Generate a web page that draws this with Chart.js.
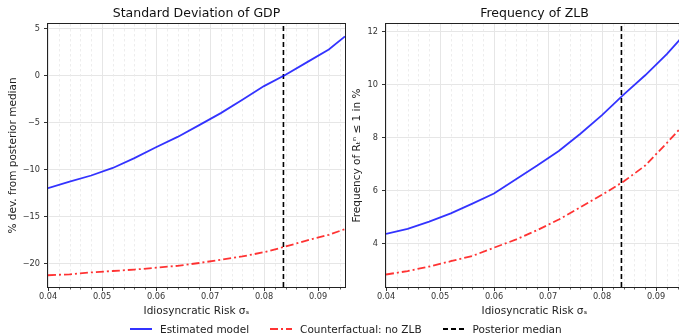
<!DOCTYPE html>
<html><head><meta charset="utf-8">
<script src="https://cdn.jsdelivr.net/npm/chart.js@4.4.0/dist/chart.umd.min.js"></script>
<style>
html,body{margin:0;padding:0;background:#fff;overflow:hidden;width:679px;height:336px;position:relative;}
#c1{position:absolute;left:0;top:0;}
#c2{position:absolute;left:340px;top:0;}
#legend{position:absolute;left:130px;top:321px;height:16px;display:flex;align-items:center;font-family:'DejaVu Sans';font-size:10.5px;color:#222;white-space:nowrap;}
.item{display:flex;align-items:center;margin-right:21px;}
.item svg{margin-right:8px;}
</style></head><body>
<canvas id="c1" width="350" height="336"></canvas>
<canvas id="c2" width="343" height="336"></canvas>
<div id="legend">
  <div class="item"><svg width="22" height="6"><line x1="0" y1="3" x2="22" y2="3" stroke="rgba(0,0,255,0.8)" stroke-width="2"/></svg>Estimated model</div>
  <div class="item"><svg width="22" height="6"><line x1="0" y1="3" x2="22" y2="3" stroke="rgba(255,0,0,0.8)" stroke-width="2" stroke-dasharray="8,3,2,3"/></svg>Counterfactual: no ZLB</div>
  <div class="item"><svg width="22" height="6"><line x1="0" y1="3" x2="22" y2="3" stroke="#000" stroke-width="2" stroke-dasharray="5,3"/></svg>Posterior median</div>
</div>
<script>
// ---- data ----
const sigma        = [0.040, 0.044, 0.048, 0.052, 0.056, 0.060, 0.064, 0.068, 0.072, 0.076, 0.080, 0.084, 0.088, 0.092, 0.095];
const gdpEstimated = [-11.95, -11.25, -10.6, -9.8, -8.75, -7.6, -6.5, -5.25, -3.97, -2.55, -1.1, 0.1, 1.45, 2.8, 4.18];
const gdpNoZLB     = [-21.2, -21.1, -20.9, -20.75, -20.6, -20.4, -20.2, -19.9, -19.55, -19.2, -18.75, -18.15, -17.5, -16.9, -16.3];
const zlbEstimated = [4.38, 4.57, 4.84, 5.15, 5.52, 5.9, 6.43, 6.95, 7.5, 8.15, 8.85, 9.62, 10.35, 11.15, 11.82];
const zlbNoZLB     = [2.85, 2.98, 3.15, 3.35, 3.55, 3.86, 4.16, 4.52, 4.92, 5.38, 5.85, 6.35, 6.95, 7.8, 8.46];
const posteriorMedian = 0.0836;
const xTicks   = [0.040,0.042,0.044,0.046,0.048,0.050,0.052,0.054,0.056,0.058,0.060,0.062,0.064,0.066,0.068,0.070,0.072,0.074,0.076,0.078,0.080,0.082,0.084,0.086,0.088,0.090,0.092,0.094];
const xRange   = [0.04, 0.095];
const gdpYTicks = [-20, -15, -10, -5, 0, 5];
const gdpRange  = [-22.45, 5.5];
const zlbYTicks = [4, 6, 8, 10, 12];
const zlbRange  = [2.38, 12.28];

const FONT = "'DejaVu Sans', sans-serif";
const isMajor = v => Math.abs(v*100 - Math.round(v*100)) < 1e-6;

const panelPlugin = {
  id: 'panel',
  beforeDatasetsDraw(chart) {
    const {ctx, chartArea: a, scales: {x}} = chart;
    ctx.save();
    ctx.strokeStyle = '#e9e9e9'; ctx.lineWidth = 0.8; ctx.setLineDash([2.5, 2.5]);
    xTicks.forEach(v => {
      if (isMajor(v)) return;
      const px = Math.round(x.getPixelForValue(v)) + 0.5;
      ctx.beginPath(); ctx.moveTo(px, a.top); ctx.lineTo(px, a.bottom); ctx.stroke();
    });
    ctx.restore();
  },
  afterDraw(chart, args, opts) {
    const {ctx, chartArea: a, scales: {x}} = chart;
    ctx.save();
    // minor ticks
    ctx.strokeStyle = '#333'; ctx.lineWidth = 0.8; ctx.setLineDash([]);
    xTicks.forEach(v => {
      if (isMajor(v)) return;
      const px = Math.round(x.getPixelForValue(v)) + 0.5;
      ctx.beginPath(); ctx.moveTo(px, a.bottom); ctx.lineTo(px, a.bottom + 2.5); ctx.stroke();
    });
    // frame
    ctx.strokeStyle = '#222'; ctx.lineWidth = 1;
    ctx.strokeRect(Math.round(a.left) - 0.5, Math.round(a.top) - 0.5, Math.round(a.right - a.left) + 1, Math.round(a.bottom - a.top) + 1);
    // title
    ctx.fillStyle = '#111';
    ctx.font = "12.5px " + FONT;
    ctx.textAlign = 'center'; ctx.textBaseline = 'middle';
    ctx.fillText(opts.text, (a.left + a.right) / 2, 14);
    ctx.restore();
  }
};

function makeChart(id, cfg) {
  const tickFont = {family: FONT, size: 8.2};
  return new Chart(document.getElementById(id), {
    type: 'line',
    data: {
      datasets: [
        {data: sigma.map((s, i) => ({x: s, y: cfg.est[i]})), borderColor: 'rgba(0,0,255,0.8)', borderWidth: 1.8},
        {data: sigma.map((s, i) => ({x: s, y: cfg.cf[i]})), borderColor: 'rgba(255,0,0,0.8)', borderWidth: 1.8, borderDash: [8, 3, 2, 3]},
        {data: [{x: posteriorMedian, y: cfg.range[0]}, {x: posteriorMedian, y: cfg.range[1]}], borderColor: '#000', borderWidth: 1.6, borderDash: [5, 3]}
      ]
    },
    options: {
      responsive: false, animation: false,
      layout: {padding: {left: 0, right: cfg.padRight, top: 24, bottom: 16}},
      elements: {point: {radius: 0}, line: {tension: 0}},
      plugins: {legend: {display: false}, tooltip: {enabled: false}, title: {display: false}, panel: {text: cfg.title}},
      scales: {
        x: {
          type: 'linear', min: xRange[0], max: xRange[1],
          afterBuildTicks: s => { s.ticks = xTicks.map(v => ({value: v})); },
          afterFit: s => { s.height = 33; },
          ticks: {autoSkip: false, maxRotation: 0, padding: 1, font: tickFont, color: '#333',
                  callback: v => isMajor(v) ? v.toFixed(2) : ''},
          grid: {color: c => (c.tick && isMajor(c.tick.value)) ? '#e6e6e6' : 'rgba(0,0,0,0)',
                 tickColor: c => (c.tick && isMajor(c.tick.value)) ? '#333' : 'rgba(0,0,0,0)',
                 tickLength: 4, lineWidth: 1},
          border: {display: false},
          title: {display: true, text: 'Idiosyncratic Risk σₛ', font: {family: FONT, size: 10.5}, color: '#222', padding: {top: 0, bottom: 2}}
        },
        y: {
          type: 'linear', min: cfg.range[0], max: cfg.range[1],
          afterBuildTicks: s => { s.ticks = cfg.yTicks.map(v => ({value: v})); },
          afterFit: s => { s.width = cfg.yWidth; },
          ticks: {padding: 4, font: tickFont, color: '#333', callback: v => String(v).replace('-', '\u2212')},
          grid: {color: '#e6e6e6', tickColor: '#333', tickLength: 4},
          border: {display: false},
          title: {display: true, text: cfg.ytitle, font: {family: FONT, size: 10.5}, color: '#222', padding: {top: cfg.yTitlePad, bottom: 0}}
        }
      }
    },
    plugins: [panelPlugin]
  });
}

makeChart('c1', {est: gdpEstimated, cf: gdpNoZLB, range: gdpRange, yTicks: gdpYTicks, title: 'Standard Deviation of GDP',
  ytitle: '% dev. from posterior median', yWidth: 48, yTitlePad: 7, padRight: 5});
makeChart('c2', {est: zlbEstimated, cf: zlbNoZLB, range: zlbRange, yTicks: zlbYTicks, title: 'Frequency of ZLB',
  ytitle: 'Frequency of Rₜⁿ ≤ 1 in %', yWidth: 46, yTitlePad: 11, padRight: 0});
</script>
</body></html>
